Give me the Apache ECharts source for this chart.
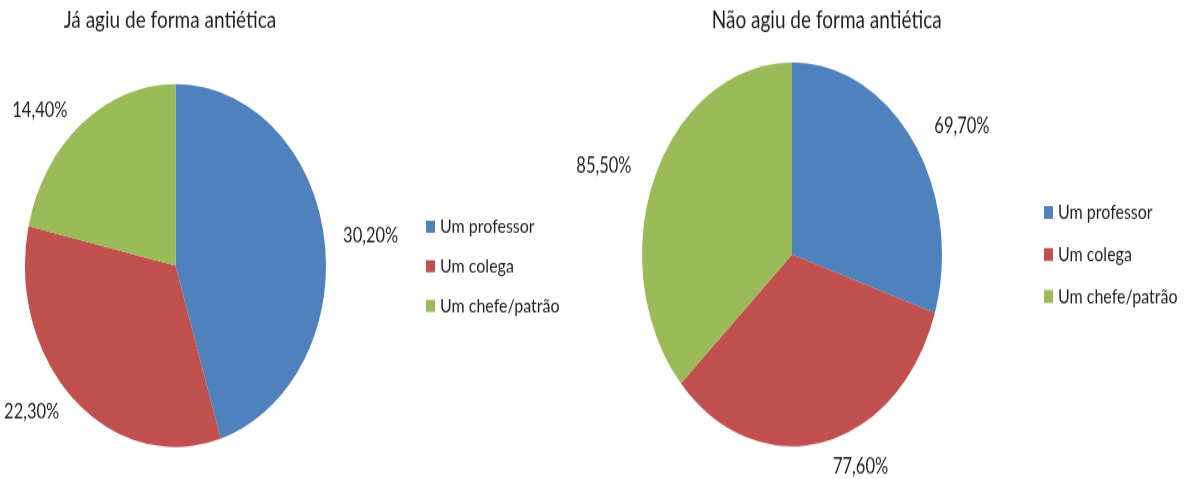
<!DOCTYPE html>
<html>
<head>
<meta charset="utf-8">
<script src="https://cdn.jsdelivr.net/npm/echarts@6/dist/echarts.min.js"></script>
<style>
  html, body { margin: 0; padding: 0; background: #ffffff; overflow: hidden; }
  #wrap { position: relative; width: 1191px; height: 479px; }
  .chart { position: absolute; top: 0; transform-origin: 0 0; }
</style>
</head>
<body>
<div id="wrap">
  <div id="left" class="chart"></div>
  <div id="right" class="chart"></div>
</div>
<script>
// ---- data ----
const categories = ['Um professor', 'Um colega', 'Um chefe/patrão'];
const leftValues = [30.2, 22.3, 14.4];
const rightValues = [69.7, 77.6, 85.5];
const leftTitle = 'Já agiu de forma antiética';
const rightTitle = 'Não agiu de forma antiética';
const colors = ['#4F81BD', '#C0504D', '#9BBB59'];

const FONT = 'Lato';
const TEXT = '#1f1f1f';

function fmt(v) { return v.toFixed(2).replace('.', ',') + '%'; }

function build(el, cfg) {
  el.style.left = cfg.x + 'px';
  el.style.width = cfg.w + 'px';
  el.style.height = (479 / cfg.sy) + 'px';
  el.style.transform = 'scaleY(' + cfg.sy + ')';
  const chart = echarts.init(el, null, { renderer: 'canvas' });
  chart.setOption({
    animation: false,
    color: colors,
    textStyle: { fontFamily: FONT, color: TEXT },
    title: {
      text: cfg.title,
      left: cfg.titleX,
      top: cfg.titleTop,
      padding: 0,
      textAlign: 'center',
      textStyle: { fontFamily: FONT, fontSize: 19, fontWeight: 'normal', color: TEXT }
    },
    legend: {
      orient: 'vertical',
      left: cfg.legendX,
      top: cfg.legendTop,
      padding: 0,
      itemWidth: 9,
      itemHeight: 10,
      itemGap: 16.8,
      icon: 'rect',
      data: categories,
      textStyle: { fontFamily: FONT, fontSize: 16, color: TEXT }
    },
    series: [{
      type: 'pie',
      center: cfg.center,
      radius: cfg.r,
      startAngle: 90,
      clockwise: true,
      avoidLabelOverlap: false,
      itemStyle: { borderWidth: 0 },
      label: {
        show: true,
        position: 'outside',
        fontFamily: FONT,
        fontSize: 16.5,
        color: TEXT,
        formatter: p => fmt(p.value)
      },
      labelLine: { show: false, length: cfg.len, length2: 0 },
      emphasis: { disabled: true },
      data: categories.map((c, i) => ({ name: c, value: cfg.values[i] }))
    }]
  });
}

build(document.getElementById('left'), {
  x: 0, w: 560, sy: 1.206,
  title: leftTitle, titleX: 170, titleTop: 7,
  legendX: 426, legendTop: 180,
  center: [175.5, 220.2], r: 150.5, len: 14,
  values: leftValues
});
build(document.getElementById('right'), {
  x: 560, w: 631, sy: 1.28,
  title: rightTitle, titleX: 266.7, titleTop: 6,
  legendX: 484, legendTop: 158,
  center: [232, 198.7], r: 150, len: 20,
  values: rightValues
});
</script>
</body>
</html>
